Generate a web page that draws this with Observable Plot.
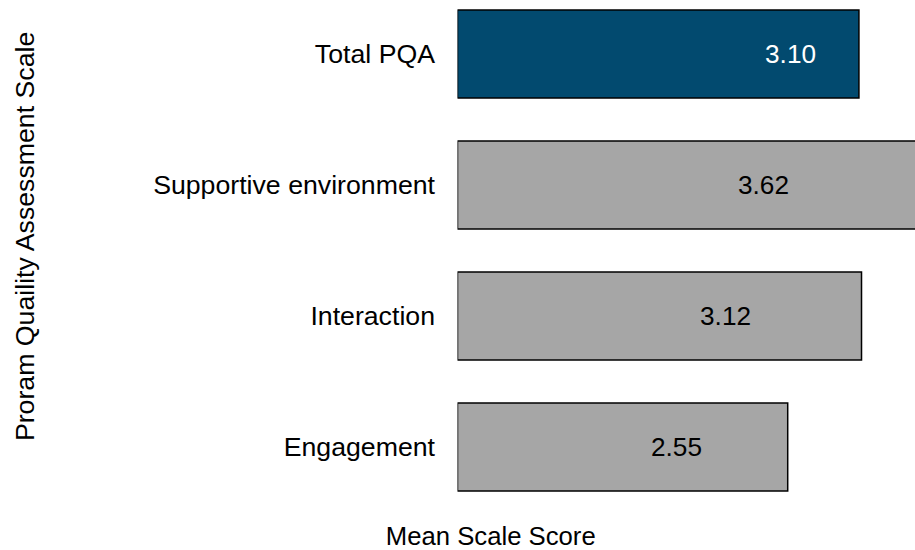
<!DOCTYPE html>
<html>
<head>
<meta charset="utf-8">
<script src="https://cdn.jsdelivr.net/npm/d3@7"></script>
<script src="https://cdn.jsdelivr.net/npm/@observablehq/plot@0.6"></script>
<style>
  html, body { margin: 0; padding: 0; background: #fff; overflow: hidden; }
  svg { font-family: "Liberation Sans", Arial, sans-serif; }
</style>
</head>
<body>
<div id="chart"></div>
<script>
const categories = ["Total PQA", "Supportive environment", "Interaction", "Engagement"];
const scores = [3.10, 3.62, 3.12, 2.55];
const labelPos = [2.568, 2.359, 2.066, 1.687];
const highlight = [true, false, false, false];
const xTitle = "Mean Scale Score";
const yTitle = "Proram Quaility Assessment Scale";

const data = categories.map((c, i) => ({
  category: c, score: scores[i], labelX: labelPos[i], hi: highlight[i],
  label: scores[i].toFixed(2)
}));

const chart = Plot.plot({
  width: 915,
  height: 550,
  marginLeft: 457.5,
  marginRight: 0,
  marginTop: 2.4,
  marginBottom: 52.6,
  style: { fontFamily: "'Liberation Sans', Arial, sans-serif", fontSize: "26px", background: "#fff", overflow: "hidden" },
  x: { domain: [0, 3.533], axis: null },
  y: { domain: categories, paddingInner: 0.33, paddingOuter: 0.05, label: null },
  marks: [
    Plot.barX(data, {
      x: "score", y: "category",
      fill: d => d.hi ? "#024a6f" : "#a6a6a6",
      stroke: "#000", strokeWidth: 1.5, clip: true
    }),
    Plot.axisY({ tickSize: 0, tickPadding: 23, fontSize: 26.7, label: null, fill: "#000" }),
    Plot.text(data, {
      x: "labelX", y: "category", text: "label",
      fill: d => d.hi ? "#fff" : "#000", fontSize: 26.2
    }),
    Plot.text([xTitle], { frameAnchor: "bottom", textAnchor: "middle", dx: -196, dy: 47.3, fontSize: 25.7, fill: "#000" }),
    Plot.text([yTitle], { frameAnchor: "left", textAnchor: "middle", rotate: -90, dx: -432.5, dy: -14, fontSize: 26.7, fill: "#000" })
  ]
});
document.getElementById("chart").appendChild(chart);
</script>
</body>
</html>
